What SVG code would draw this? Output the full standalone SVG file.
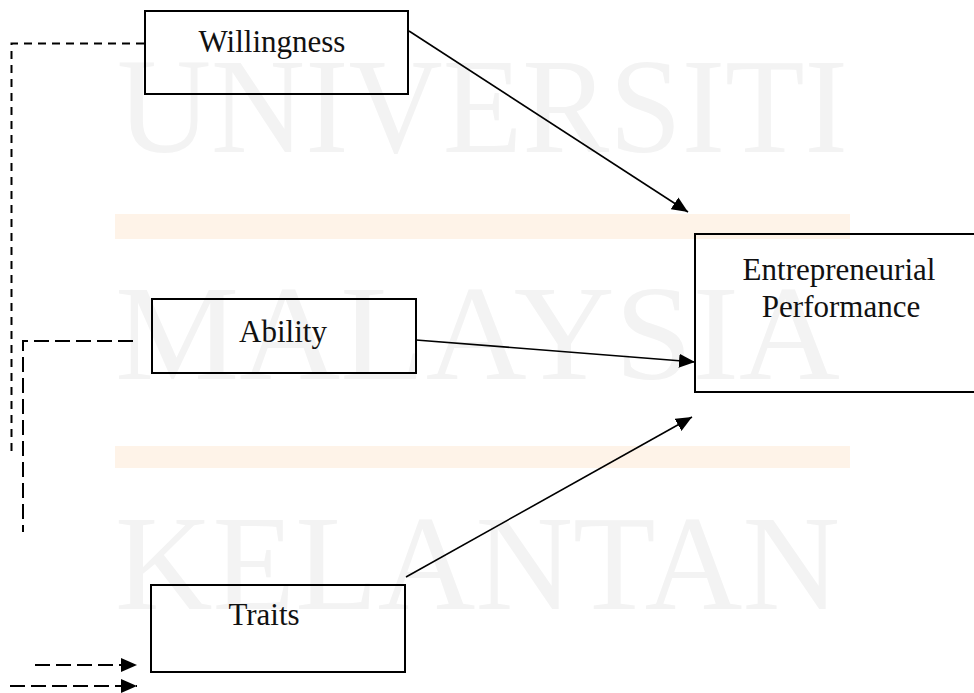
<svg xmlns="http://www.w3.org/2000/svg" width="974" height="693" viewBox="0 0 974 693">
  <style>
    .box { fill: none; stroke: #000; stroke-width: 2; }
    .lbl { font-family: "Liberation Serif", "Times New Roman", serif; font-size: 31px; fill: #111; text-anchor: middle; }
    .wm { font-family: "Liberation Serif", "Times New Roman", serif; font-size: 135px; fill: #f3f3f3; }
    .band { fill: #fef3e8; }
    .conn { fill: none; stroke: #000; stroke-width: 1.6; }
    .dash { fill: none; stroke: #000; stroke-width: 2; }
  </style>
  <defs>
    <marker id="ah" viewBox="0 0 16 14" refX="16" refY="7" markerWidth="16" markerHeight="14" orient="auto" markerUnits="userSpaceOnUse">
      <path d="M0,0 L16,7 L0,14 z" fill="#000"/>
    </marker>
  </defs>
  <rect width="974" height="693" fill="#fff"/>
  <g id="watermark">
    <rect class="band" x="115" y="214" width="735" height="25"/>
    <rect class="band" x="115" y="446" width="735" height="22"/>
    <text class="wm" x="117" y="152" textLength="731" lengthAdjust="spacingAndGlyphs">UNIVERSITI</text>
    <text class="wm" x="115" y="379" textLength="725" lengthAdjust="spacingAndGlyphs">MALAYSIA</text>
    <text class="wm" x="115" y="609" textLength="725" lengthAdjust="spacingAndGlyphs">KELANTAN</text>
  </g>
  <g id="connectors">
    <path class="dash" d="M144,43.5 H11.5 V455" stroke-dasharray="8,6"/>
    <path class="dash" d="M133,341 H23 V532" stroke-dasharray="15,6"/>
    <line class="dash" x1="35" y1="665" x2="137" y2="665" stroke-dasharray="15,6" marker-end="url(#ah)"/>
    <line class="dash" x1="10" y1="686" x2="137" y2="686" stroke-dasharray="15,6" marker-end="url(#ah)"/>
    <line class="conn" x1="409" y1="31" x2="688" y2="212" marker-end="url(#ah)"/>
    <line class="conn" x1="416" y1="340" x2="695" y2="362" marker-end="url(#ah)"/>
    <line class="conn" x1="406" y1="577" x2="692" y2="417" marker-end="url(#ah)"/>
  </g>
  <g id="willingness">
    <rect class="box" x="145" y="11" width="263" height="83"/>
    <text class="lbl" x="272" y="52">Willingness</text>
  </g>
  <g id="ability">
    <rect class="box" x="152" y="299" width="264" height="74"/>
    <text class="lbl" x="283" y="342">Ability</text>
  </g>
  <g id="traits">
    <rect class="box" x="151" y="585" width="254" height="87"/>
    <text class="lbl" x="264" y="625">Traits</text>
  </g>
  <g id="entrepreneurial-performance">
    <rect class="box" x="695" y="234" width="300" height="158"/>
    <text class="lbl" x="839" y="280">Entrepreneurial</text>
    <text class="lbl" x="841" y="317">Performance</text>
  </g>
</svg>
